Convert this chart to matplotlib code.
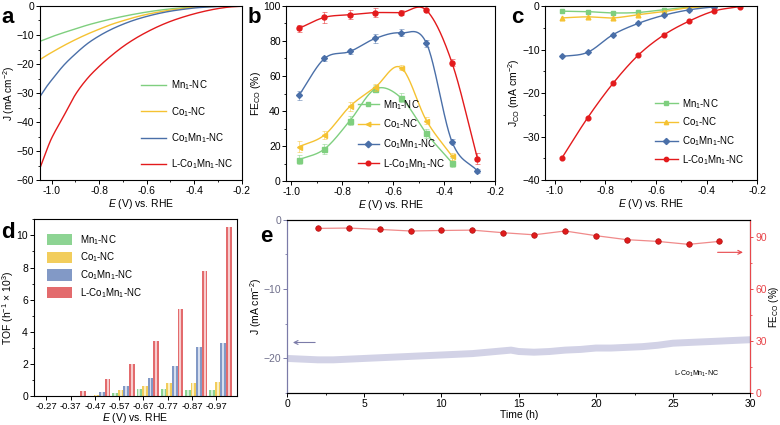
import numpy as np
import matplotlib
matplotlib.use('Agg')
import matplotlib.pyplot as plt
from matplotlib.patches import Patch
from matplotlib.ticker import MultipleLocator

plt.rcParams['font.family'] = ['Liberation Sans', 'DejaVu Sans']
plt.rcParams['font.size'] = 7
plt.rcParams['mathtext.fontset'] = 'custom'
plt.rcParams['mathtext.rm'] = 'Liberation Sans'
plt.rcParams['mathtext.it'] = 'Liberation Sans:italic'
plt.rcParams['axes.linewidth'] = 0.8

LABELS = ['Mn$_1$-NC', 'Co$_1$-NC', 'Co$_1$Mn$_1$-NC', 'L-Co$_1$Mn$_1$-NC']
colors = ['#7fcf7f', '#f5c232', '#4a6fa8', '#e31a1c']
XLAB = '$\\it{E}$ (V) vs. RHE'
TICK_FS = 7.5
LAB_FS = 7.5
LEG_FS = 7

# (a) LSV curves
E_lsv = [-1.05, -1.025, -1.0, -0.95, -0.9, -0.85, -0.8, -0.75, -0.7, -0.65, -0.6,
         -0.55, -0.5, -0.45, -0.4, -0.35, -0.3, -0.25, -0.2]
J_mn = [-12.2, -11.4, -10.6, -9.2, -7.9, -6.6, -5.5, -4.5, -3.6, -2.8, -2.1,
        -1.5, -1.0, -0.65, -0.4, -0.2, -0.1, 0.0, 0.0]
J_co = [-18.5, -17.2, -16.0, -13.7, -11.6, -9.7, -8.0, -6.4, -5.1, -3.9, -2.9,
        -2.1, -1.4, -0.9, -0.5, -0.25, -0.1, 0.0, 0.0]
J_comn = [-31.3, -28.2, -25.5, -20.5, -16.5, -13.0, -10.3, -8.1, -6.3, -4.8, -3.6,
          -2.6, -1.8, -1.2, -0.7, -0.4, -0.2, -0.1, 0.0]
J_lcomn = [-56.0, -50.5, -45.5, -38.0, -30.5, -25.0, -20.8, -17.2, -14.0, -11.3, -9.0,
           -7.0, -5.3, -3.9, -2.7, -1.7, -0.9, -0.35, -0.1]

# (b) FE_CO and (c) J_CO
E_pts = [-0.97, -0.87, -0.77, -0.67, -0.57, -0.47, -0.37, -0.27]
FE_mn = [12.2, 18.3, 34.5, 52.6, 47.6, 27.2, 10.5]
FE_co = [19.6, 26.3, 42.7, 53.7, 64.8, 34.5, 14.3]
FE_comn = [49.0, 70.0, 74.0, 81.5, 84.6, 78.7, 22.5, 5.7]
FE_lcomn = [87.2, 93.5, 95.0, 96.2, 96.2, 97.5, 67.6, 12.8]
err_mn = [2.5, 3.0, 2.5, 2.0, 2.5, 2.5, 2.5]
err_co = [3.0, 2.5, 2.5, 2.0, 1.5, 2.0, 2.0]
err_comn = [2.5, 1.5, 1.5, 2.5, 2.0, 2.0, 1.5, 1.0]
err_lcomn = [2.0, 3.0, 2.5, 2.5, 1.5, 1.0, 2.0, 3.0]

Jco_mn = [-1.2, -1.3, -1.6, -1.5, -0.85, -0.3, -0.1]
Jco_co = [-2.75, -2.5, -2.75, -2.0, -1.3, -0.4, -0.1]
Jco_comn = [-11.6, -10.65, -6.6, -4.0, -2.15, -0.9, -0.2]
Jco_lcomn = [-34.8, -25.7, -17.8, -11.3, -6.7, -3.5, -1.15, -0.15]

# (d) TOF
tof_cats = ['-0.27', '-0.37', '-0.47', '-0.57', '-0.67', '-0.77', '-0.87', '-0.97']
tof_mn = [0.0, 0.0, 0.03, 0.2, 0.45, 0.47, 0.38, 0.35]
tof_co = [0.0, 0.0, 0.05, 0.4, 0.63, 0.82, 0.8, 0.85]
tof_comn = [0.0, 0.02, 0.27, 0.62, 1.15, 1.9, 3.05, 3.3]
tof_lcomn = [0.0, 0.33, 1.08, 2.02, 3.45, 5.4, 7.8, 10.5]

# (e) stability
t_j = [0, 1, 2, 3, 4, 5, 6, 7, 8, 9, 10, 11, 12, 13, 14, 14.5, 15, 16, 17, 18,
       19, 20, 21, 22, 23, 24, 25, 26, 27, 28, 29, 30]
J_t = [-20.0, -20.1, -20.2, -20.2, -20.1, -20.0, -19.9, -19.8, -19.7, -19.6,
       -19.5, -19.4, -19.3, -19.1, -18.9, -18.8, -19.0, -19.1, -19.0, -18.8,
       -18.7, -18.5, -18.5, -18.4, -18.3, -18.1, -17.8, -17.7, -17.6, -17.5,
       -17.4, -17.3]
t_fe = [2, 4, 6, 8, 10, 12, 14, 16, 18, 20, 22, 24, 26, 28]
FE_t = [95.0, 95.2, 94.4, 93.5, 93.8, 94.0, 92.5, 91.3, 93.5, 90.8, 88.5,
        87.5, 85.8, 87.5]


def smooth(x, y, n=40):
    # Catmull-Rom style cubic Hermite, only for drawing the connecting line
    x = np.asarray(x, float)
    y = np.asarray(y, float)
    o = np.argsort(x)
    x, y = x[o], y[o]
    m = np.gradient(y, x)
    m[1:-1] = (y[2:] - y[:-2]) / (x[2:] - x[:-2])
    xs_all, ys_all = [], []
    for i in range(len(x) - 1):
        h = x[i + 1] - x[i]
        t = np.linspace(0, 1, n)
        h00 = 2 * t ** 3 - 3 * t ** 2 + 1
        h10 = t ** 3 - 2 * t ** 2 + t
        h01 = -2 * t ** 3 + 3 * t ** 2
        h11 = t ** 3 - t ** 2
        xs_all.append(x[i] + t * h)
        ys_all.append(h00 * y[i] + h10 * h * m[i] + h01 * y[i + 1] + h11 * h * m[i + 1])
    return np.concatenate(xs_all), np.concatenate(ys_all)


def style(ax):
    ax.tick_params(which='both', direction='out', top=False, right=False,
                   labelsize=TICK_FS, pad=1.2)
    ax.tick_params(which='major', length=2.8, width=0.7)
    ax.tick_params(which='minor', length=1.6, width=0.6)


def fmt_e(v, pos):
    return f'{v:.1f}'


def e_axis(ax):
    ax.xaxis.set_major_locator(MultipleLocator(0.2))
    ax.xaxis.set_minor_locator(MultipleLocator(0.1))
    ax.xaxis.set_major_formatter(fmt_e)


fig = plt.figure(figsize=(7.8, 4.25), dpi=100)

# ---- a ----
ax = fig.add_axes([0.051, 0.576, 0.259, 0.41])
for y, c, lab in zip([J_mn, J_co, J_comn, J_lcomn], colors, LABELS):
    xs, ys = smooth(E_lsv, y)
    ax.plot(xs, ys, color=c, lw=1.0, label=lab)
ax.set_xlim(-1.05, -0.2)
ax.set_ylim(-60, 0)
e_axis(ax)
ax.yaxis.set_major_locator(MultipleLocator(10))
ax.yaxis.set_minor_locator(MultipleLocator(5))
style(ax)
ax.set_xlabel(XLAB, fontsize=LAB_FS, labelpad=1)
ax.set_ylabel('J (mA cm$^{-2}$)', fontsize=7.2, labelpad=-0.5)
ax.legend(loc='lower right', frameon=False, fontsize=LEG_FS, handlelength=2.6,
          handletextpad=0.5, labelspacing=1.3, borderaxespad=0.5)

# ---- b ----
ax = fig.add_axes([0.367, 0.574, 0.268, 0.412])
markers_b = ['s', '<', 'D', 'o']
for y, e, c, m, lab in zip([FE_mn, FE_co, FE_comn, FE_lcomn],
                           [err_mn, err_co, err_comn, err_lcomn],
                           colors, markers_b, LABELS):
    xv = E_pts[:len(y)]
    xs, ys = smooth(xv, y)
    ax.plot(xs, ys, color=c, lw=1.0)
    ax.errorbar(xv, y, yerr=e, fmt='none', ecolor=c, elinewidth=0.7,
                capsize=1.8, capthick=0.7, alpha=0.5)
    ax.plot(xv, y, ls='none', marker=m, ms=3.6 if m != 'D' else 3.0,
            color=c, label=lab)
ax.set_xlim(-1.02, -0.2)
ax.set_ylim(0, 100)
e_axis(ax)
ax.yaxis.set_major_locator(MultipleLocator(20))
ax.yaxis.set_minor_locator(MultipleLocator(10))
style(ax)
ax.set_xlabel(XLAB, fontsize=LAB_FS, labelpad=1)
ax.set_ylabel('FE$_{\\rm CO}$ (%)', fontsize=LAB_FS, labelpad=0)
hb = [plt.Line2D([], [], color=c, marker=m, ms=3.3, lw=1.0)
      for c, m in zip(colors, markers_b)]
ax.legend(hb, LABELS, loc='lower left', bbox_to_anchor=(0.3, 0.01),
          frameon=False, fontsize=LEG_FS, handlelength=2.2, handletextpad=0.4,
          labelspacing=0.6)

# ---- c ----
ax = fig.add_axes([0.699, 0.576, 0.272, 0.41])
markers_c = ['s', '^', 'D', 'o']
for y, c, m, lab in zip([Jco_mn, Jco_co, Jco_comn, Jco_lcomn], colors,
                        markers_c, LABELS):
    xv = E_pts[:len(y)]
    xs, ys = smooth(xv, y)
    ax.plot(xs, ys, color=c, lw=1.0)
    ax.plot(xv, y, ls='none', marker=m, ms=3.4 if m != 'D' else 2.9, color=c)
ax.set_xlim(-1.037, -0.2)
ax.set_ylim(-40, 0)
e_axis(ax)
ax.yaxis.set_major_locator(MultipleLocator(10))
ax.yaxis.set_minor_locator(MultipleLocator(5))
style(ax)
ax.set_xlabel(XLAB, fontsize=LAB_FS, labelpad=1)
ax.set_ylabel('J$_{\\rm CO}$ (mA cm$^{-2}$)', fontsize=LAB_FS, labelpad=0)
hc = [plt.Line2D([], [], color=c, marker=m, ms=3.1, lw=1.0)
      for c, m in zip(colors, markers_c)]
ax.legend(hc, LABELS, loc='lower right', frameon=False, fontsize=LEG_FS,
          handlelength=2.4, handletextpad=0.4, labelspacing=0.5,
          borderaxespad=1.0)

# ---- d ----
ax = fig.add_axes([0.043, 0.068, 0.261, 0.416])
bar_mid = ['#8dd493', '#f2cd5c', '#8299c6', '#e36b6d']
bar_light = ['#d6f1d8', '#fcefc4', '#d6deef', '#f7cdce']
offsets = [-0.17, 0.06, 0.29, 0.52]
w = 0.23
xc = np.arange(len(tof_cats))
for vals, cm, cl, off in zip([tof_mn, tof_co, tof_comn, tof_lcomn],
                             bar_mid, bar_light, offsets):
    ax.bar(xc + off, vals, width=w, color=cm, lw=0)
    ax.bar(xc + off, vals, width=w * 0.35, color=cl, lw=0)
ax.set_xlim(-0.53, 7.86)
ax.set_ylim(0, 11)
ax.set_xticks(xc)
ax.set_xticklabels(tof_cats)
ax.yaxis.set_major_locator(MultipleLocator(2))
ax.yaxis.set_minor_locator(MultipleLocator(1))
style(ax)
ax.tick_params(axis='x', labelsize=6.8)
ax.set_xlabel(XLAB, fontsize=LAB_FS, labelpad=0.5)
ax.set_ylabel('TOF (h$^{-1}$ × 10$^3$)', fontsize=LAB_FS, labelpad=0)
hd = [Patch(facecolor=cm, edgecolor='none') for cm in bar_mid]
ax.legend(hd, LABELS, loc='upper left', frameon=False, fontsize=LEG_FS,
          handlelength=2.6, handleheight=1.4, labelspacing=0.4,
          borderaxespad=1.0)

# ---- e ----
ax = fig.add_axes([0.368, 0.075, 0.594, 0.408])
left_c = '#7b7ba8'
red_c = '#e8474c'
ax.plot(t_j, J_t, color='#d2d2e6', lw=5.0, solid_capstyle='butt')
ax.set_xlim(0, 30)
ax.set_ylim(-25, 0)
ax.xaxis.set_major_locator(MultipleLocator(5))
ax.xaxis.set_minor_locator(MultipleLocator(2.5))
ax.yaxis.set_major_locator(MultipleLocator(10))
ax.yaxis.set_minor_locator(MultipleLocator(5))
style(ax)
ax.spines['left'].set_color(left_c)
ax.tick_params(axis='y', which='both', colors=left_c, labelcolor='#6e6e8a')
ax.set_xlabel('Time (h)', fontsize=LAB_FS, labelpad=1)
ax.set_ylabel('J (mA cm$^{-2}$)', fontsize=LAB_FS, labelpad=0)
ax.annotate('', xy=(0.2, -17.7), xytext=(2.0, -17.7),
            arrowprops=dict(arrowstyle='->', color=left_c, lw=0.8))
ax.text(26.5, -22.3, 'L-Co$_1$Mn$_1$-NC', fontsize=5, ha='center', va='center')

ax2 = ax.twinx()
ax2.plot(t_fe, FE_t, color='#f08a8a', lw=0.9, marker='o', ms=4,
         mfc='#e01b1b', mec='#b01010', mew=0.5)
ax2.set_ylim(0, 100)
ax2.yaxis.set_major_locator(MultipleLocator(30))
ax2.yaxis.set_minor_locator(MultipleLocator(15))
ax2.tick_params(which='both', direction='out', colors=red_c,
                labelsize=TICK_FS, pad=1.0)
ax2.tick_params(which='major', length=2.5, width=0.7)
ax2.tick_params(which='minor', length=1.5, width=0.6)
ax2.spines['right'].set_color(red_c)
ax2.spines['left'].set_color(left_c)
ax2.set_ylabel('FE$_{\\rm CO}$ (%)', fontsize=7, labelpad=0)
ax2.annotate('', xy=(29.7, 81.2), xytext=(27.7, 81.2),
             arrowprops=dict(arrowstyle='->', color=red_c, lw=0.8))

# panel letters
for lab, x, y in [('a', 0.002, 0.947), ('b', 0.318, 0.947), ('c', 0.655, 0.947),
                  ('d', 0.002, 0.44), ('e', 0.334, 0.43)]:
    fig.text(x, y, lab, fontsize=16, fontweight='bold')

fig.savefig('out.png', dpi=100)
